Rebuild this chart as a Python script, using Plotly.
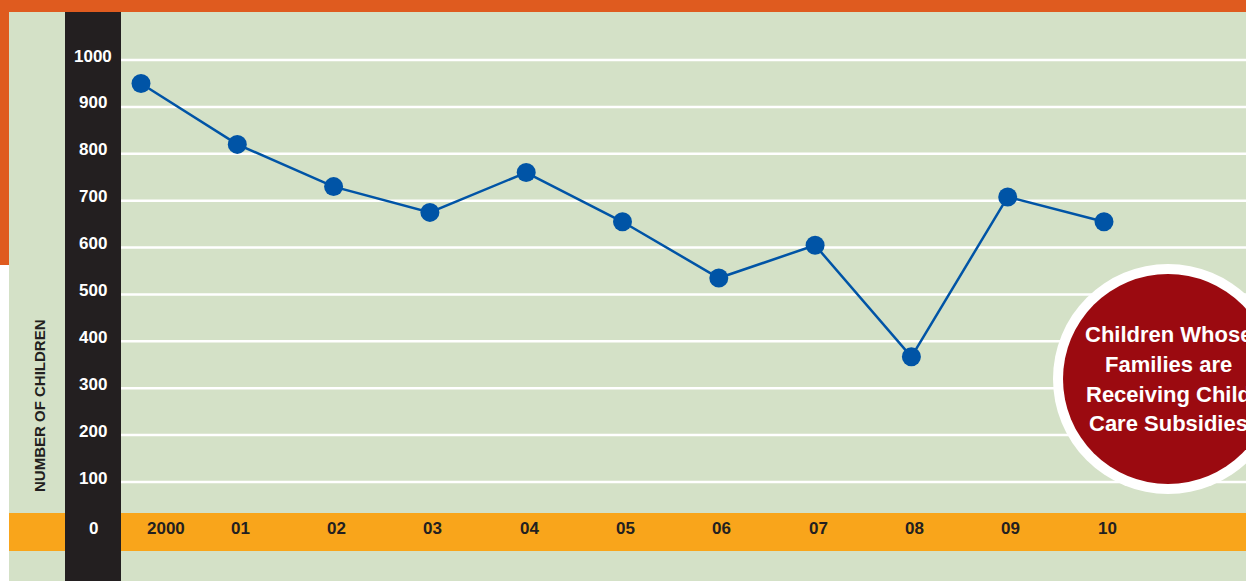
import plotly.graph_objects as go

years = ["2000", "01", "02", "03", "04", "05", "06", "07", "08", "09", "10"]
children = [950, 820, 730, 675, 760, 655, 535, 605, 367, 708, 655]
y_ticks = [0, 100, 200, 300, 400, 500, 600, 700, 800, 900, 1000]
y_title = "NUMBER OF CHILDREN"
badge_lines = ["Children Whose", "Families are", "Receiving Child", "Care Subsidies"]

W, H = 1246, 581
GREEN = "#D4E1C7"
TOP_ORANGE = "#DF5B1F"
BAND_ORANGE = "#F9A51B"
BLACK = "#231F20"
BLUE = "#0054A6"
RED = "#9B0A10"
SANS = "Liberation Sans, Arial, sans-serif"

def px(x):
    return x / W

def py(y):
    return 1 - y / H

idx = list(range(len(years)))

fig = go.Figure()
fig.add_trace(go.Scatter(
    x=idx, y=children, mode="lines+markers",
    line=dict(color=BLUE, width=2.5),
    marker=dict(color=BLUE, size=19),
    hoverinfo="skip", showlegend=False, cliponaxis=False,
))

shapes = []
shapes.append(dict(type="rect", xref="paper", yref="paper", x0=0, x1=1, y0=py(12), y1=1,
                   fillcolor=TOP_ORANGE, line_width=0, layer="below"))
shapes.append(dict(type="rect", xref="paper", yref="paper", x0=0, x1=px(9), y0=py(265), y1=1,
                   fillcolor=TOP_ORANGE, line_width=0, layer="below"))
shapes.append(dict(type="rect", xref="paper", yref="paper", x0=0, x1=px(9), y0=0, y1=py(265),
                   fillcolor="white", line_width=0, layer="below"))
shapes.append(dict(type="rect", xref="paper", yref="paper", x0=px(9), x1=1, y0=py(551), y1=py(513),
                   fillcolor=BAND_ORANGE, line_width=0, layer="below"))
for t in y_ticks[1:]:
    shapes.append(dict(type="line", xref="paper", yref="y", x0=px(121), x1=1, y0=t, y1=t,
                       line=dict(color="white", width=2.5), layer="below"))
shapes.append(dict(type="rect", xref="paper", yref="paper", x0=px(65), x1=px(121), y0=0, y1=py(12),
                   fillcolor=BLACK, line_width=0, layer="below"))
cx, cy, r_out, r_in = 1168, 379, 115, 105
shapes.append(dict(type="circle", xref="paper", yref="paper",
                   x0=px(cx - r_out), x1=px(cx + r_out), y0=py(cy + r_out), y1=py(cy - r_out),
                   fillcolor="white", line_width=0, layer="above"))
shapes.append(dict(type="circle", xref="paper", yref="paper",
                   x0=px(cx - r_in), x1=px(cx + r_in), y0=py(cy + r_in), y1=py(cy - r_in),
                   fillcolor=RED, line_width=0, layer="above"))

annotations = []
for t in y_ticks:
    annotations.append(dict(text=f"<b>{t}</b>", xref="paper", yref="y", x=px(93), y=t,
                            showarrow=False, xanchor="center", yanchor="middle",
                            yshift=0 if t == 0 else 4,
                            font=dict(family=SANS, size=17, color="white")))
for i, lab in zip(idx, years):
    annotations.append(dict(text=f"<b>{lab}</b>", xref="x", yref="y", x=i, y=0,
                            showarrow=False, xanchor="center", yanchor="middle",
                            xshift=25 if i == 0 else 3,
                            font=dict(family=SANS, size=17, color=BLACK)))
annotations.append(dict(text=f"<b>{y_title}</b>", xref="paper", yref="paper", x=px(40), y=py(405),
                        showarrow=False, textangle=-90, xanchor="center", yanchor="middle",
                        font=dict(family=SANS, size=15, color=BLACK)))
line_ys = [334, 364, 394, 423]
for txt, ly in zip(badge_lines, line_ys):
    annotations.append(dict(text=f"<b>{txt}</b>", xref="paper", yref="paper", x=px(cx), y=py(ly),
                            showarrow=False, xanchor="center", yanchor="middle",
                            font=dict(family=SANS, size=22, color="white")))

step = 96.3
x0 = -141 / step
x1 = (W - 141) / step
scale = 46.89 / 100
zero_py = 528.9
y_top = zero_py / scale
y_bot = -(H - zero_py) / scale

fig.update_layout(
    width=W, height=H,
    margin=dict(l=0, r=0, t=0, b=0),
    paper_bgcolor=GREEN, plot_bgcolor="rgba(0,0,0,0)",
    xaxis=dict(range=[x0, x1], visible=False, fixedrange=True),
    yaxis=dict(range=[y_bot, y_top], visible=False, fixedrange=True),
    shapes=shapes, annotations=annotations,
)

fig.write_html("out.html", config={"displayModeBar": False},
               post_script="document.body.style.margin='0';document.body.style.overflow='hidden';")
